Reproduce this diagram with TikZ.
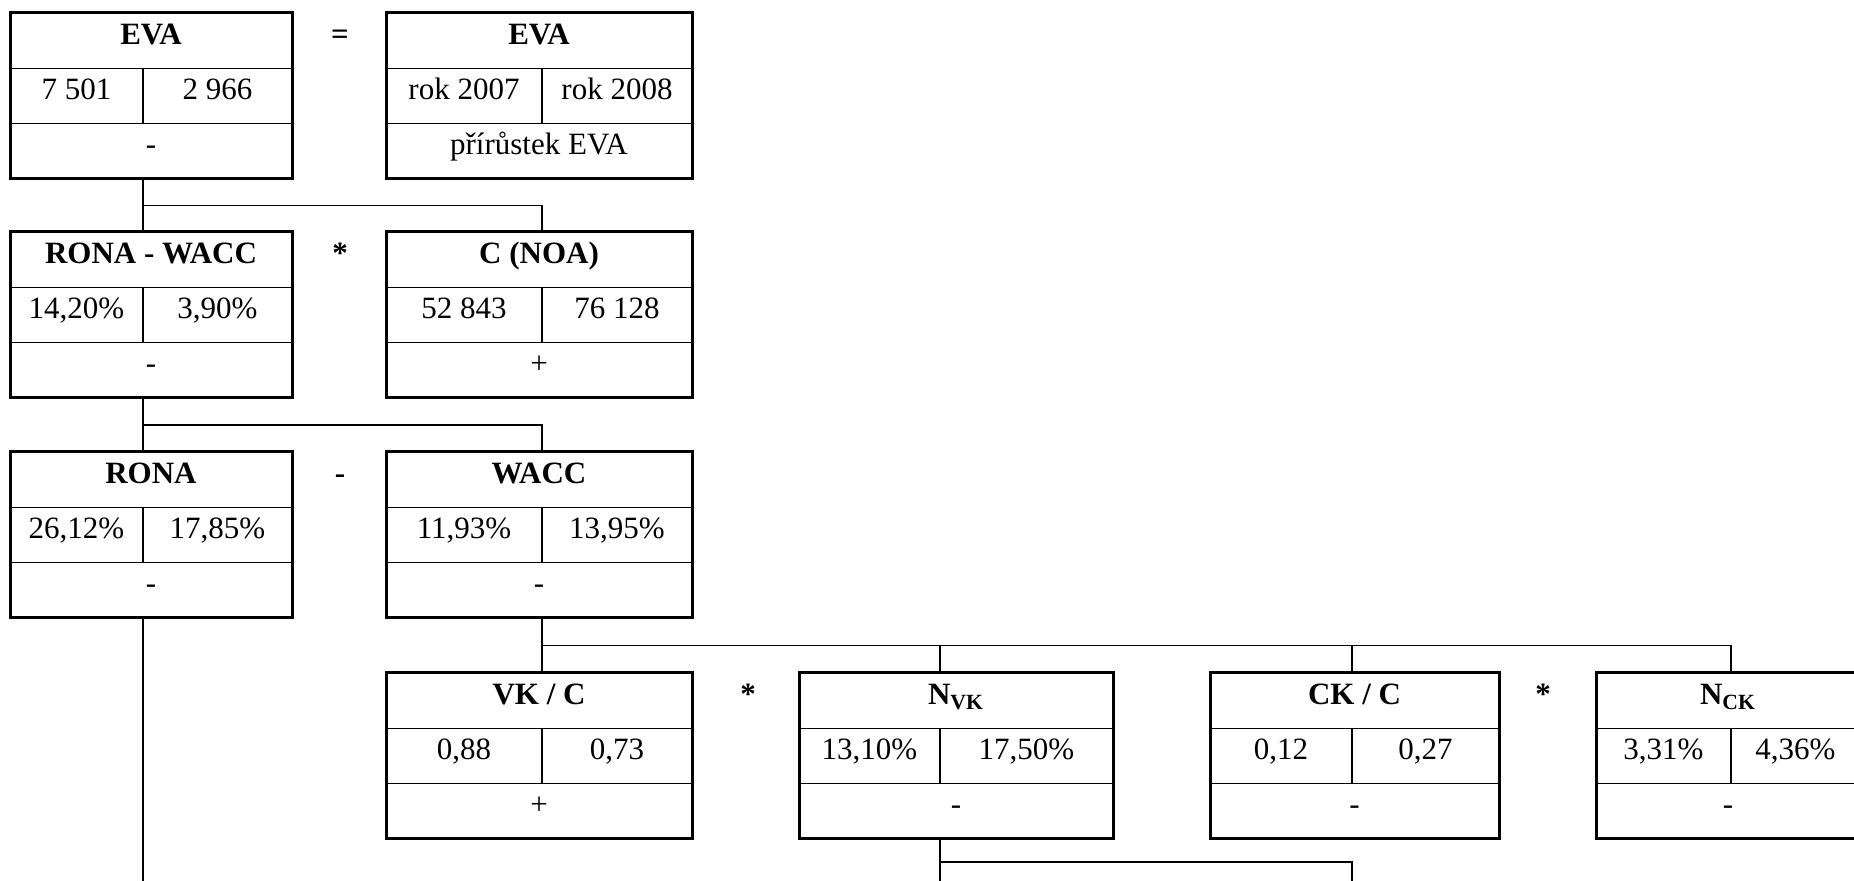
\documentclass[tikz,border=0pt]{standalone}
\usepackage{fontspec}
\setmainfont{Liberation Serif}
\usepackage{tikz}
\usetikzlibrary{calc}
\tikzstyle{boxframe}=[line width=1.5pt]
\tikzstyle{rowline}=[line width=0.85pt]
\tikzstyle{colline}=[line width=0.65pt]
\tikzstyle{link}=[line width=0.85pt]
\tikzstyle{cell}=[inner sep=0pt,anchor=base,font=\fontsize{15.5}{18}\selectfont]
\tikzstyle{headcell}=[cell,font=\fontsize{15.5}{18}\selectfont\bfseries]
\tikzstyle{op}=[inner sep=0pt,anchor=base,font=\fontsize{15.5}{18}\selectfont\bfseries]
\newcommand{\pxunit}{0.5pt}

% box: name, left, middle, right, top, title, value 1, value 2, change
\newcommand{\evabox}[9]{
    \draw[rowline] (#2,#5+55.5) -- (#4,#5+55.5);
    \draw[rowline] (#2,#5+110.5) -- (#4,#5+110.5);
    \draw[colline] (#3,#5+55.5) -- (#3,#5+110.5);
    \draw[boxframe] (#2,#5) rectangle (#4,#5+166);
    \node[headcell] (#1-t) at ({(#2+#4)/2},#5+32) {#6};
    \node[cell] (#1-a) at ({(#2+#3)/2},#5+87) {#7};
    \node[cell] (#1-b) at ({(#3+#4)/2},#5+87) {#8};
    \node[cell] (#1-c) at ({(#2+#4)/2},#5+142) {#9};
    \coordinate (#1-top) at (#3,#5);
    \coordinate (#1-bot) at (#3,#5+166);
}

\begin{document}
\begin{tikzpicture}[x=\pxunit,y=-\pxunit]
    \useasboundingbox (0,0) rectangle (1854,881);
    \clip (0,0) rectangle (1854,881);
    \evabox{eva}{10}{143}{292}{13}{EVA}{7 501}{2 966}{-}
    \evabox{key}{386}{542}{692}{13}{EVA}{rok 2007}{rok 2008}{přírůstek EVA}
    \evabox{rw}{10}{143}{292}{232}{RONA - WACC}{14,20\%}{3,90\%}{-}
    \evabox{noa}{386}{542}{692}{232}{C (NOA)}{52 843}{76 128}{+}
    \evabox{rona}{10}{143}{292}{452}{RONA}{26,12\%}{17,85\%}{-}
    \evabox{wacc}{386}{542}{692}{452}{WACC}{11,93\%}{13,95\%}{-}
    \evabox{vkc}{386}{542}{692}{673}{VK / C}{0,88}{0,73}{+}
    \evabox{nvk}{799}{940}{1113}{673}{N\textsubscript{VK}}{13,10\%}{17,50\%}{-}
    \evabox{ckc}{1210}{1352}{1499}{673}{CK / C}{0,12}{0,27}{-}
    \evabox{nck}{1596}{1731}{1860}{673}{N\textsubscript{CK}}{3,31\%}{4,36\%}{-}
    \node[op] (eq) at (340,45) {=};
    \node[op] (mul1) at (340,264) {*};
    \node[op] (sub1) at (340,484) {-};
    \node[op] (mul2) at (748,705) {*};
    \node[op] (mul3) at (1543,705) {*};
    % links
    \coordinate (j1) at ($(eva-bot)!.5!(rw-top)$);
    \draw[link] (eva-bot) -- (rw-top);
    \draw[link] (j1) -| (noa-top);
    \coordinate (j2) at ($(rw-bot)!.5!(rona-top)$);
    \draw[link] (rw-bot) -- (rona-top);
    \draw[link] (j2) -| (wacc-top);
    \coordinate (j3) at ($(wacc-bot)!.5!(vkc-top)$);
    \draw[link] (wacc-bot) -- (vkc-top);
    \draw[link] (j3) -| (nck-top);
    \draw[link] (j3 -| nvk-top) -- (nvk-top);
    \draw[link] (j3 -| ckc-top) -- (ckc-top);
    \coordinate (rona-end) at (143,890);
    \coordinate (nvk-end) at (940,890);
    \coordinate (ckc-end) at (1352,890);
    \draw[link] (rona-bot) -- (rona-end);
    \draw[link] (nvk-bot) -- (nvk-end);
    \draw[link] ($(nvk-bot)+(0,23)$) -| (ckc-end);
\end{tikzpicture}
\end{document}
